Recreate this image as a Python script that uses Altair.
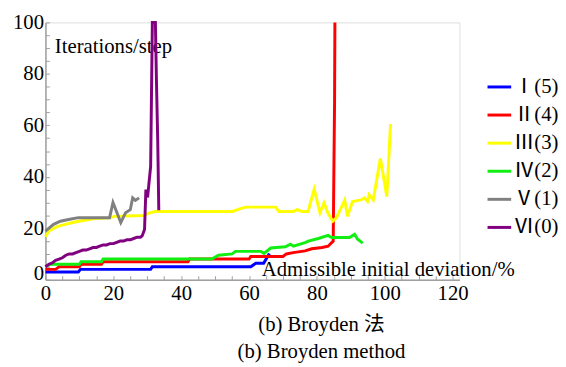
import altair as alt
import pandas as pd

series_names = ["Ⅰ(5)", "Ⅱ(4)", "Ⅲ(3)", "Ⅳ(2)", "Ⅴ(1)", "Ⅵ(0)"]
series_colors = ["#0000ff", "#ff0000", "#ffff00", "#11ee11", "#808080", "#800080"]

s1_x = [0, 9.7, 10.3, 31, 31.5, 60.5, 62, 64.3, 66]
s1_y = [3, 3, 4, 4, 5, 5, 6.4, 6.4, 10.2]

s2_x = [0, 3, 4, 10, 10.5, 16.5, 17, 42, 42.5, 60, 60.5, 70, 71, 73, 76.5, 78.5, 81.5, 83.3, 84.8, 85.2, 85.3]
s2_y = [4, 4, 5, 5, 6, 6, 7, 7, 8, 8, 9, 9, 10, 10.5, 11.2, 12, 12.5, 13, 15, 69, 100]

s3_x = [0, 1, 3.4, 5.8, 8.7, 11.6, 14.5, 18.4, 20.3, 29, 30.5, 32.4, 55.2, 57.2, 59.1, 67.8, 68.8,
        73.1, 74.1, 75.6, 77.4, 79.2, 80.9, 82.1, 83.2, 84.7, 85.8, 88.2, 89, 90.5, 93, 94, 94.9,
        95.4, 96.6, 98.7, 100.6, 101.7]
s3_y = [16.7, 18.9, 20.6, 21.5, 22.4, 23.1, 23.8, 24, 24.6, 24.9, 25.9, 26.5, 26.5, 27.5, 28.2, 28.2, 26.5,
        26.5, 27.2, 26.5, 26.5, 35.2, 26, 29.9, 26, 22.7, 24.1, 31, 24.6, 30.4, 31, 31.8, 30.4,
        33, 31, 47.1, 32.3, 60.5]

s4_x = [0, 1.5, 10, 10.5, 16.5, 17, 49, 51, 55, 56, 63.5, 64.4, 66.4, 70.7, 72.2, 73.1, 76.5, 77.5,
        80.4, 83.3, 84.3, 89.6, 91.1, 92, 93.5]
s4_y = [5, 6, 6, 7, 7, 8, 8, 9.5, 10, 11, 11, 10.2, 12.3, 12.8, 13.8, 13, 14.4, 15,
        16, 17.2, 16.4, 16.4, 17.6, 15.7, 14.2]

s5_x = [0, 2.4, 4.4, 6.8, 9.7, 18.9, 19.9, 22.2, 23.6, 25, 25.7, 26.5, 27.6]
s5_y = [18.9, 21.5, 22.7, 23.4, 24.1, 24.1, 30, 22.2, 26, 27.2, 31.8, 30.8, 31.8]

s6_x = [0, 1, 2, 3, 4, 5, 6, 7, 8, 9, 10, 11, 12, 13, 14, 15, 16, 17, 18, 19, 20, 21, 22, 23, 24,
        25, 26, 27, 28, 28.5, 29.2, 29.6, 30.1, 30.5, 31, 31.5, 32.4, 32.7, 33.1, 33.4]
s6_y = [5, 6, 6.5, 7.5, 8, 8.5, 9.5, 10, 10, 10.5, 11, 11.5, 11.5, 12, 12.5, 12.5, 13, 13.5, 13.5, 14,
        14, 14.5, 15, 15, 15.5, 15.5, 16, 16.5, 16.5, 17, 19.5, 35, 32, 37.4, 44, 100, 100, 78, 53, 27]

x_ticks = list(range(0, 125, 5))
y_ticks = list(range(0, 105, 5))

y_title = "Iterations/step"
x_title = "Admissible initial deviation/%"
captions = ["(b) Broyden 法", "(b) Broyden method"]

FONT = "Liberation Serif, Noto Sans CJK SC, serif"

rows = []
for name, xs, ys in zip(series_names,
                        [s1_x, s2_x, s3_x, s4_x, s5_x, s6_x],
                        [s1_y, s2_y, s3_y, s4_y, s5_y, s6_y]):
    for i, (xv, yv) in enumerate(zip(xs, ys)):
        rows.append({"series": name, "x": xv, "y": yv, "idx": i})
df = pd.DataFrame(rows)

axis_common = dict(
    domainColor="#a0a0a0", domainWidth=1.5, tickColor="#a0a0a0", tickWidth=1,
    tickSize={"expr": "-4"}, grid=False,
    labelFont=FONT, labelFontSize=21, labelColor="black",
    labelExpr="datum.value % 20 === 0 ? datum.label : ''",
    titleFont=FONT, titleFontSize=21, titleFontWeight="normal", titleColor="black",
)

lines = alt.Chart(df).mark_line(strokeWidth=3, clip=False).encode(
    x=alt.X("x:Q", scale=alt.Scale(domain=[0, 122], nice=False),
            axis=alt.Axis(values=x_ticks, title=x_title, labelPadding=7,
                          titleX=219, titleY=-4, titleAlign="left", titleBaseline="alphabetic",
                          titleAnchor="start", labelFlush=False, **axis_common)),
    y=alt.Y("y:Q", scale=alt.Scale(domain=[0, 100], nice=False),
            axis=alt.Axis(values=y_ticks, title=y_title, labelPadding=6,
                          labelOffset={"condition": {"test": "datum.value === 0", "value": -6}, "value": 0},
                          titleX=9, titleY=31, titleAngle=0, titleAlign="left",
                          titleBaseline="alphabetic", titleAnchor="start", **axis_common)),
    color=alt.Color("series:N", scale=alt.Scale(domain=series_names, range=series_colors),
                    legend=alt.Legend(orient="none", legendX=447, legendY=52, title=None,
                                      symbolType="stroke", symbolSize=576, symbolStrokeWidth=3,
                                      labelFont=FONT, labelFontSize=21, labelColor="black",
                                      rowPadding=4.5, labelOffset=1, padding=0, labelLimit=200)),
    order="idx:Q",
)

cap_df = pd.DataFrame({"t": captions, "row": [0, 1]})
cap1 = alt.Chart(cap_df).transform_filter("datum.row == 0").mark_text(
    font=FONT, fontSize=21, align="center", baseline="middle", color="black"
).encode(x=alt.value(280), y=alt.value(307), text="t:N")
cap2 = alt.Chart(cap_df).transform_filter("datum.row == 1").mark_text(
    font=FONT, fontSize=21, align="center", baseline="middle", color="black"
).encode(x=alt.value(280), y=alt.value(334), text="t:N")

chart = alt.layer(lines, cap1, cap2).properties(
    width=420, height=261,
    padding={"left": 38, "top": 12, "right": 100, "bottom": 86},
    autosize=alt.AutoSizeParams(type="none"),
).configure_view(stroke=None).configure(font=FONT)

chart.save("out.html", embed_options={"renderer": "svg", "actions": False})
